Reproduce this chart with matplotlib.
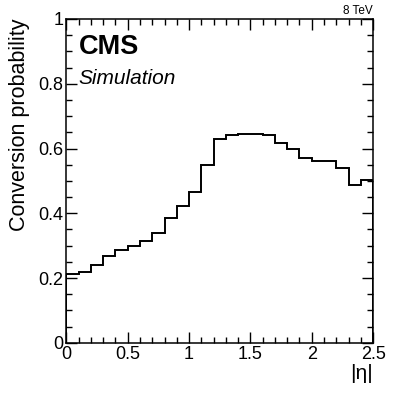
import numpy as np
import matplotlib
matplotlib.use("Agg")
import matplotlib.pyplot as plt
from matplotlib.ticker import MultipleLocator

plt.rcParams['font.family'] = ['Liberation Sans', 'DejaVu Sans']

# bin edges in |eta| and conversion probability per bin
bin_edges = np.round(np.arange(0, 2.51, 0.1), 2)
conv_prob = [0.212, 0.218, 0.241, 0.268, 0.286, 0.299, 0.313, 0.339, 0.385, 0.423,
             0.467, 0.549, 0.629, 0.642, 0.645, 0.646, 0.643, 0.616, 0.600, 0.572,
             0.562, 0.560, 0.541, 0.487, 0.502]

fig = plt.figure(figsize=(4.15, 3.95), dpi=100)
ax = fig.add_axes([0.160, 0.132, 0.739, 0.820])

ax.stairs(conv_prob, bin_edges, color='black', lw=1.4)

ax.set_xlim(0, 2.5)
ax.set_ylim(0, 1)
ax.xaxis.set_major_locator(MultipleLocator(0.5))
ax.xaxis.set_minor_locator(MultipleLocator(0.1))
ax.yaxis.set_major_locator(MultipleLocator(0.2))
ax.yaxis.set_minor_locator(MultipleLocator(0.05))
ax.xaxis.set_major_formatter(plt.FuncFormatter(lambda v, p: '%g' % v))
ax.yaxis.set_major_formatter(plt.FuncFormatter(lambda v, p: '%g' % v))
ax.tick_params(which='both', direction='in', top=True, right=True, labelsize=13, width=1)
ax.tick_params(which='major', length=8, pad=2)
ax.tick_params(which='minor', length=4)
for s in ax.spines.values():
    s.set_linewidth(1.1)

ax.set_xlabel('|η|', fontsize=15, loc='right', labelpad=1)
ax.set_ylabel('Conversion probability', fontsize=15.5, loc='top', labelpad=6)

ax.text(0.04, 0.955, 'CMS', transform=ax.transAxes, fontsize=19.5, fontweight='bold',
        va='top', ha='left')
ax.text(0.04, 0.845, 'Simulation', transform=ax.transAxes, fontsize=15, style='italic',
        va='top', ha='left')
ax.text(1.0, 1.005, '8 TeV', transform=ax.transAxes, fontsize=8.5, va='bottom', ha='right')

fig.savefig('out.png', dpi=100)
